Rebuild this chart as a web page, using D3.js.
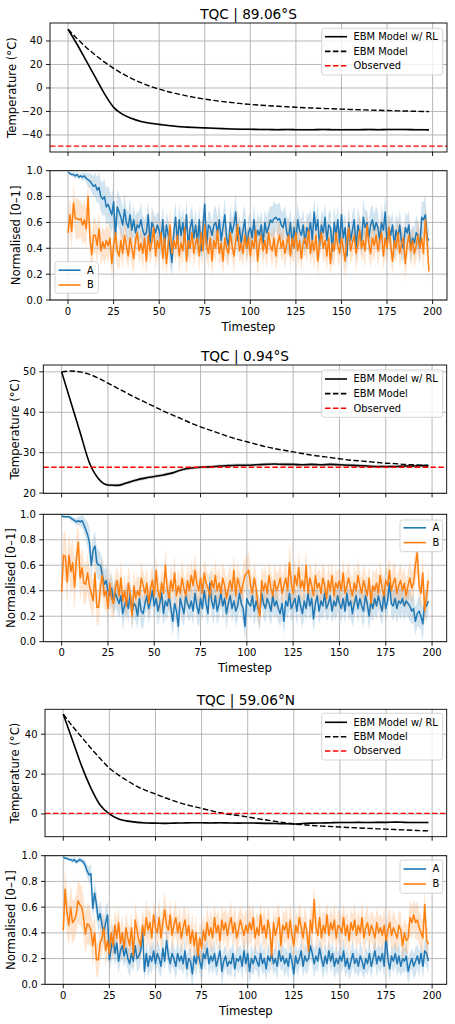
<!DOCTYPE html>
<html>
<head>
<meta charset="utf-8">
<script src="https://cdn.jsdelivr.net/npm/d3@7"></script>
<style>
body { margin: 0; background: #fff; }
svg { display: block; font-family: "DejaVu Sans", sans-serif; }
</style>
</head>
<body>
<svg width="455" height="1024"></svg>
<script>
// ---- data ----
const titles = ["TQC | 89.06°S", "TQC | 0.94°S", "TQC | 59.06°N"]
const xTicks = [0, 25, 50, 75, 100, 125, 150, 175, 200]
const normTicks = [0, 0.2, 0.4, 0.6, 0.8, 1.0]
const tempTicks = [[-40, -20, 0, 20, 40], [20, 30, 40, 50], [0, 20, 40]]
const tempLegend = ["EBM Model w/ RL", "EBM Model", "Observed"]
const seriesNames = ["A", "B"]

// temperature curves, sampled every 5 timesteps
const tempSteps = [0,5,10,15,20,25,30,35,40,45,50,55,60,65,70,75,80,85,90,95,100,105,110,115,120,125,130,135,140,145,150,155,160,165,170,175,180,185,190,195,198]

const rl1 = [50,37,23,9,-5,-16.5,-22.5,-26,-28.5,-30,-31,-32,-32.8,-33.3,-33.7,-34,-34.3,-34.6,-34.9,-35.1,-35.2,-35.3,-35.4,-35.5,-35.4,-35.5,-35.6,-35.5,-35.4,-35.5,-35.6,-35.5,-35.5,-35.4,-35.5,-35.4,-35.3,-35.4,-35.5,-35.6,-35.7]
const ebm1 = [50,42,34.5,28,22,16.7,12,8,4.5,1.5,-1,-3.2,-5,-6.7,-8.2,-9.5,-10.6,-11.6,-12.5,-13.3,-14,-14.6,-15.1,-15.6,-16,-16.4,-16.8,-17.1,-17.4,-17.7,-18,-18.3,-18.5,-18.8,-19,-19.2,-19.4,-19.6,-19.8,-20,-20.1]
const rlStd1 = [0,0.2,0.3,0.4,0.5,0.5,0.6,0.6,0.6,0.7,0.7,0.7,0.8,0.8,0.8,0.8,0.8,0.8,0.9,0.9,0.9,0.9,0.9,0.9,0.9,0.9,0.9,0.9,0.9,0.9,0.9,0.9,0.9,0.9,0.9,0.9,0.9,0.9,0.9,0.9,0.9]
const obs1 = -49.5

const rl2 = [50,42.5,35,27.5,23.5,22,21.9,22.5,23.2,23.7,24.1,24.5,25,25.8,26.2,26.4,26.5,26.7,26.8,26.9,26.9,27,27.1,27.2,27.1,27.1,27,27.1,27,27.1,27,26.9,26.8,26.7,26.6,26.6,26.6,26.7,26.7,26.8,26.6]
const ebm2 = [50,50.2,50,49.4,48.4,47.2,46,44.8,43.6,42.5,41.4,40.3,39.3,38.3,37.3,36.4,35.6,34.8,34,33.3,32.7,32.1,31.5,31,30.6,30.2,29.8,29.4,29.1,28.8,28.5,28.2,28,27.8,27.6,27.4,27.3,27.1,27,26.9,26.9]
const rlStd2 = [0,0.1,0.2,0.3,0.3,0.3,0.4,0.4,0.4,0.4,0.4,0.4,0.4,0.4,0.4,0.4,0.4,0.4,0.4,0.4,0.4,0.4,0.4,0.4,0.4,0.4,0.4,0.4,0.4,0.4,0.4,0.4,0.4,0.4,0.4,0.4,0.4,0.4,0.4,0.4,0.4]
const obs2 = 26.4

const rl3 = [50,37,24,13,4.5,0,-2.5,-3.6,-4.2,-4.5,-4.6,-4.7,-4.6,-4.5,-4.4,-4.4,-4.5,-4.4,-4.5,-4.6,-4.5,-4.6,-4.7,-4.8,-4.9,-5,-4.8,-4.6,-4.5,-4.4,-4.3,-4.3,-4.2,-4.3,-4.2,-4.2,-4.1,-4.2,-4.3,-4.3,-4.3]
const ebm3 = [50,44,38.5,33,27.8,23,19.5,16.5,13.8,11.7,10,8.2,6.6,5.1,3.9,2.8,1.7,0.6,-0.2,-0.8,-1.5,-2.3,-3,-3.7,-4.4,-5,-5.4,-5.8,-6.1,-6.3,-6.5,-6.8,-7,-7.2,-7.4,-7.6,-7.8,-8,-8.2,-8.4,-8.5]
const rlStd3 = [0,0.2,0.3,0.3,0.4,0.4,0.4,0.4,0.4,0.4,0.4,0.4,0.4,0.4,0.4,0.4,0.4,0.4,0.4,0.4,0.4,0.4,0.4,0.4,0.4,0.4,0.4,0.4,0.4,0.4,0.4,0.4,0.4,0.4,0.4,0.4,0.4,0.4,0.4,0.4,0.4]
const obs3 = 0.3

// normalised series, one value per timestep (x100)
const a1 = [99,98,97,97,96,97,95,96,95,96, 94,93,92,90,88,89,85,87,80,78, 80,72,74,70,66,76,49,72,68,64, 58,70,60,56,66,54,62,52,58,56, 62,54,50,52,66,44,60,56,52,58, 54,46,62,42,58,50,40,29,52,64, 44,62,50,60,46,66,40,56,62,48, 58,44,62,38,56,74,42,58,56,50, 58,60,52,62,46,56,66,48,42,60, 52,58,68,46,56,44,54,62,40,52, 56,48,62,46,54,50,58,44,60,52, 56,62,60,63,64,62,63,58,56,63, 52,48,60,42,56,46,62,54,50,58, 44,56,52,60,46,68,54,62,42,58, 52,64,46,58,56,38,60,50,62,44, 66,48,56,34,60,46,54,62,40,58, 52,46,64,56,60,48,58,62,54,60, 56,46,60,54,68,44,56,50,58,42, 54,48,58,44,40,56,52,58,40,48, 44,52,50,40,64,62,66,48,46]
const sa1 = [1,1,1,2,2,2,2,2,3,3, 4,5,6,7,8,10,10,12,12,13, 14,14,15,14,14,15,14,14,13,14, 12,13,11,12,14,10,12,13,11,12, 13,11,12,14,10,12,13,11,12,10, 12,14,11,13,10,12,14,11,13,12, 10,12,13,11,14,12,10,13,11,12, 13,11,12,10,14,12,13,11,12,10, 12,13,11,14,12,10,13,11,12,14, 11,12,15,13,10,12,14,11,12,13, 12,10,13,11,14,12,11,13,10,12, 13,11,12,14,10,12,13,11,12,10, 12,14,11,13,10,12,14,11,13,12, 10,12,13,11,14,12,10,13,11,12, 13,11,12,10,14,12,13,11,12,10, 12,13,11,14,12,10,13,11,12,14, 11,12,14,13,10,12,14,11,12,13, 12,10,13,11,14,12,11,13,10,12, 13,11,12,14,10,12,13,11,12,10, 12,14,11,13,12,14,16,12,10]
const b1 = [52,66,53,75,63,63,62,63,58,62, 55,80,48,35,50,50,42,55,38,45, 40,46,42,48,28,42,52,38,34,46, 36,50,42,34,48,40,32,46,52,38, 44,36,48,30,50,38,45,56,34,46, 40,52,32,48,28,44,58,36,46,40, 50,34,44,38,56,30,46,40,52,36, 44,48,34,52,38,58,42,36,48,30, 46,40,54,36,44,30,48,40,36,52, 42,34,46,58,38,44,36,50,40,48, 34,46,40,54,30,44,50,38,46,36, 52,42,38,48,34,44,50,40,46,36, 44,50,34,48,40,52,38,46,32,44, 48,40,54,36,46,38,50,30,44,52, 40,46,34,48,28,44,38,52,42,36, 48,40,30,46,56,38,44,50,36,42, 54,40,46,38,58,44,36,48,42,50, 38,46,52,34,48,40,56,42,30,46, 40,52,36,44,48,28,42,50,38,46, 36,42,50,40,48,36,62,45,22]
const sb1 = [12,13,14,15,15,16,15,14,15,16, 15,14,16,15,14,13,15,14,13,12, 13,12,14,11,13,12,14,12,11,13, 12,11,13,10,12,14,11,12,13,10, 11,13,12,10,14,11,12,13,11,12, 13,10,12,14,11,12,13,11,10,12, 12,14,11,12,10,13,11,12,14,11, 10,12,13,11,12,14,10,12,11,13, 12,11,13,10,12,11,14,12,10,13, 11,13,12,14,10,12,11,13,12,10, 13,11,12,10,14,12,11,13,10,12, 12,10,13,11,12,14,11,10,13,12, 11,13,10,12,14,11,12,13,10,12, 13,11,12,10,12,14,11,13,12,10, 12,13,11,14,10,12,13,11,12,10, 11,12,14,10,13,11,12,10,13,12, 13,11,12,14,10,12,11,13,12,10, 12,10,13,11,14,12,10,12,11,13, 11,13,12,10,12,14,11,12,13,10, 12,11,13,12,10,14,13,11,10]

const a2 = [99,98,98,98,98,97,96,95,94,95, 94,95,92,88,84,78,60,72,75,62, 60,60,52,45,48,40,36,42,32,38, 34,30,36,22,28,34,26,38,22,30, 28,20,34,24,22,30,36,26,32,40, 28,34,24,30,38,22,32,28,36,26, 16,30,24,12,34,28,22,36,30,26, 32,24,38,28,22,34,26,40,30,22, 46,32,26,36,24,30,38,28,34,22, 30,36,26,32,24,28,38,30,26,12, 34,30,28,36,24,32,26,22,38,30, 26,34,30,24,36,28,32,26,22,30, 16,32,28,38,26,30,34,24,36,28, 22,32,26,38,28,34,18,30,36,24, 32,28,38,26,30,36,24,32,28,36, 30,26,34,24,38,28,32,22,30,36, 26,34,28,24,36,30,20,32,26,34, 28,36,30,24,38,26,32,46,30,28, 34,26,32,30,34,28,32,30,28,24, 26,16,22,24,20,14,30,28,32]
const sa2 = [1,1,1,1,1,2,2,2,3,3, 4,5,6,8,10,12,10,10,12,12, 12,10,12,11,12,10,12,13,11,12, 10,12,11,13,10,12,11,10,12,11, 12,10,11,13,12,10,11,12,10,12, 11,10,12,11,13,10,12,11,10,12, 11,12,10,13,11,12,10,11,12,10, 12,11,10,12,11,13,10,12,11,10, 12,11,13,10,12,11,10,12,11,13, 10,12,11,10,12,11,13,10,12,11, 12,10,11,13,12,10,11,12,10,12, 11,10,12,11,13,10,12,11,10,12, 11,12,10,13,11,12,10,11,12,10, 12,11,10,12,11,13,10,12,11,10, 12,11,13,10,12,11,10,12,11,13, 10,12,11,10,12,11,13,10,12,11, 12,10,11,13,12,10,11,12,10,12, 11,10,12,11,13,10,12,11,10,12, 11,12,10,13,11,12,10,11,12,10, 12,11,10,12,11,13,10,12,11]
const b2 = [39,68,67,47,68,55,62,43,65,78, 50,58,46,45,54,44,38,32,54,27, 27,44,52,36,40,26,46,34,30,42, 48,36,50,32,40,28,46,38,20,44, 34,40,36,50,44,38,46,30,42,48, 36,56,40,34,46,38,60,42,34,48, 40,54,36,44,38,50,42,36,48,40, 52,44,56,46,40,50,38,54,46,42, 36,48,42,52,40,46,38,50,44,34, 42,48,40,56,36,50,44,38,46,52, 54,56,44,38,50,42,28,20,48,40, 46,38,52,42,36,48,40,44,50,38, 44,50,40,62,46,38,52,44,58,42, 48,40,60,38,50,44,36,52,42,46, 38,50,44,34,48,40,52,36,46,42, 48,40,54,38,44,50,42,36,46,40, 52,44,38,48,42,36,50,30,44,40, 46,38,52,42,36,48,44,56,40,46, 50,38,44,48,40,46,36,44,50,42, 46,60,70,44,38,54,24,36,48]
const sb2 = [20,18,20,19,17,18,20,19,18,17, 18,16,17,15,16,15,14,16,15,14, 14,13,15,12,14,13,12,14,13,12, 13,12,14,11,13,12,14,12,11,13, 12,14,11,13,12,10,14,12,13,11, 13,12,15,11,13,12,14,11,12,13, 12,14,11,13,12,15,11,12,14,12, 13,11,14,12,13,15,12,11,13,12, 14,12,11,13,12,14,11,13,12,15, 12,13,11,14,12,13,11,12,14,13, 12,15,13,11,14,12,13,11,12,14, 13,11,12,14,12,13,15,11,12,13, 12,14,11,15,13,12,14,11,13,12, 14,12,13,11,12,14,12,13,11,12, 13,12,14,11,13,12,11,14,12,13, 12,13,11,14,12,13,11,12,14,12, 13,11,12,14,12,13,11,12,13,14, 12,13,11,12,14,12,13,11,12,14, 13,11,12,14,12,13,11,12,14,13, 12,14,16,13,12,14,13,12,11]

const a3 = [99,98,98,97,97,96,97,95,96,97, 96,95,92,88,85,86,59,71,62,50, 55,46,40,48,54,19,28,36,24,32, 18,26,30,22,28,20,16,24,18,30, 20,22,26,42,10,24,14,22,18,26, 16,24,20,14,28,18,34,22,16,24, 20,14,24,18,22,16,26,12,20,18, 8,22,16,26,18,12,24,20,28,16, 22,18,24,14,20,26,10,18,22,14, 18,16,24,12,20,18,22,14,26,16, 24,10,20,16,22,18,14,24,16,20, 12,22,18,24,16,20,14,26,18,22, 16,20,14,24,18,8,22,16,20,26, 14,22,18,20,30,24,16,22,18,28, 20,14,22,16,26,18,24,14,20,16, 22,18,26,14,20,12,18,24,16,20, 14,22,18,12,20,16,24,14,20,26, 16,22,18,24,14,38,20,12,22,18, 24,16,22,14,20,18,22,10,16,20, 14,18,22,16,24,14,26,24,18]
const sa3 = [1,1,1,1,1,2,2,2,2,2, 2,3,4,5,6,8,8,9,10,10, 10,11,10,12,11,10,12,11,10,12, 10,9,11,8,10,9,11,10,8,9, 10,11,9,10,8,10,9,11,10,9, 8,10,11,9,10,8,11,10,9,10, 9,11,10,8,10,9,11,10,8,10, 11,9,10,8,10,11,9,10,8,10, 9,10,11,8,10,9,11,10,9,8, 10,11,9,10,8,10,9,11,10,9, 8,10,11,9,10,8,11,10,9,10, 9,11,10,8,10,9,11,10,8,10, 11,9,10,8,10,11,9,10,8,10, 9,10,11,8,10,9,11,10,9,8, 10,11,9,10,8,10,9,11,10,9, 8,10,11,9,10,8,11,10,9,10, 9,11,10,8,10,9,11,10,8,10, 11,9,10,8,10,11,9,10,8,10, 9,10,11,8,10,9,11,10,9,8, 10,11,9,10,8,10,9,11,10]
const b3 = [42,74,56,46,60,48,50,54,65,62, 60,52,39,47,46,42,30,40,19,19, 32,36,44,26,34,24,40,30,46,36, 48,32,40,28,44,36,30,44,22,50, 42,34,30,46,38,52,42,48,36,54, 44,40,52,36,48,58,46,42,54,38, 46,52,40,48,36,44,50,38,46,32, 42,30,40,22,36,28,42,34,48,38, 44,36,52,40,46,34,50,42,48,38, 46,52,40,48,36,42,50,44,38,46, 40,48,42,52,36,44,38,54,40,46, 36,50,42,22,48,38,44,52,30,46, 42,48,36,50,38,30,46,40,52,44, 36,48,42,26,50,40,66,44,38,52, 36,46,40,54,38,48,42,50,36,46, 44,40,52,38,46,34,48,42,50,38, 46,40,52,36,44,48,38,46,42,36, 48,40,44,38,46,34,42,48,38,44, 40,36,46,42,30,40,34,36,52,48, 54,48,50,44,40,36,62,34,31]
const sb3 = [16,18,17,16,18,17,16,15,17,16, 16,15,17,16,15,14,16,15,14,13, 13,14,12,13,12,14,12,13,12,14, 13,12,14,11,13,12,14,12,11,13, 12,14,11,13,12,15,14,12,13,11, 13,12,15,11,13,14,14,11,12,13, 12,14,11,13,12,15,11,12,14,12, 13,11,14,12,13,15,12,11,13,12, 14,12,11,13,12,14,11,13,12,15, 12,13,11,14,12,13,11,12,14,13, 12,15,13,11,14,12,13,11,12,14, 13,11,12,14,12,13,15,11,12,13, 12,14,11,15,13,12,14,11,13,12, 14,12,13,11,12,16,12,13,11,12, 13,12,14,11,13,12,11,14,12,13, 12,13,11,14,12,13,11,12,14,12, 13,11,12,14,12,13,11,12,13,14, 12,13,11,12,14,12,13,11,12,14, 13,11,12,14,12,13,11,12,14,13, 12,14,15,13,12,14,13,12,11]

// ---- layout ----
const xDomain = [-9.9, 207.9]
const blue = "#1f77b4", orange = "#ff7f0e"
const tickFont = 10, labelFont = 11.7, titleFont = 13.7, legendFont = 9.9

const svg = d3.select("svg")
let clipN = 0

function makeAxes(p, yDomain) {
    const x = d3.scaleLinear().domain(xDomain).range([p.left, p.right])
    const y = d3.scaleLinear().domain(yDomain).range([p.bottom, p.top])
    const id = "clip" + (clipN++)
    svg.append("clipPath").attr("id", id).append("rect")
        .attr("x", p.left).attr("y", p.top)
        .attr("width", p.right - p.left).attr("height", p.bottom - p.top)
    const g = svg.append("g")
    return {x, y, g, clip: "url(#" + id + ")"}
}

function grid(ax, p, yt) {
    const gg = ax.g.append("g").attr("stroke", "#b0b0b0").attr("stroke-width", 0.9)
    gg.selectAll(".gx").data(xTicks).enter().append("line")
        .attr("x1", d => ax.x(d)).attr("x2", d => ax.x(d))
        .attr("y1", p.top).attr("y2", p.bottom)
    gg.selectAll(".gy").data(yt).enter().append("line")
        .attr("y1", d => ax.y(d)).attr("y2", d => ax.y(d))
        .attr("x1", p.left).attr("x2", p.right)
}

function frameAndTicks(ax, p, yt, yfmt, showX) {
    const g = ax.g.append("g")
    g.append("rect").attr("x", p.left).attr("y", p.top)
        .attr("width", p.right - p.left).attr("height", p.bottom - p.top)
        .attr("fill", "none").attr("stroke", "#000").attr("stroke-width", 0.9)
    g.selectAll(".tx").data(xTicks).enter().append("line")
        .attr("x1", d => ax.x(d)).attr("x2", d => ax.x(d))
        .attr("y1", p.bottom).attr("y2", p.bottom + 4)
        .attr("stroke", "#000").attr("stroke-width", 0.9)
    g.selectAll(".ty").data(yt).enter().append("line")
        .attr("x1", p.left - 4).attr("x2", p.left)
        .attr("y1", d => ax.y(d)).attr("y2", d => ax.y(d))
        .attr("stroke", "#000").attr("stroke-width", 0.9)
    g.selectAll(".ly").data(yt).enter().append("text")
        .attr("x", p.left - 7.5).attr("y", d => ax.y(d)).attr("dy", "0.35em")
        .attr("text-anchor", "end").attr("font-size", tickFont)
        .text(yfmt)
    if (showX) {
        g.selectAll(".lx").data(xTicks).enter().append("text")
            .attr("x", d => ax.x(d)).attr("y", p.bottom + 14.5)
            .attr("text-anchor", "middle").attr("font-size", tickFont)
            .text(d => d)
        g.append("text").attr("x", (p.left + p.right) / 2).attr("y", p.bottom + 30.5)
            .attr("text-anchor", "middle").attr("font-size", labelFont)
            .text("Timestep")
    }
}

function yLabel(text, cx, cy) {
    svg.append("text").attr("transform", `translate(${cx},${cy}) rotate(-90)`)
        .attr("dy", "0.35em").attr("text-anchor", "middle")
        .attr("font-size", labelFont).text(text)
}

function legendBox(lg, items) {
    const g = svg.append("g")
    g.append("rect").attr("x", lg.x).attr("y", lg.y).attr("width", lg.w).attr("height", lg.h)
        .attr("rx", 2.5).attr("fill", "#fff").attr("fill-opacity", 0.8)
        .attr("stroke", "#d0d0d0").attr("stroke-width", 0.9)
    items.forEach((it, i) => {
        const yy = lg.rows[i]
        g.append("line").attr("x1", lg.l0).attr("x2", lg.l1).attr("y1", yy).attr("y2", yy)
            .attr("stroke", it.color).attr("stroke-width", 1.6)
            .attr("stroke-dasharray", it.dash || null)
        g.append("text").attr("x", lg.tx).attr("y", yy).attr("dy", "0.35em")
            .attr("font-size", legendFont).text(it.label)
    })
}

function tempPanel(p, title, rl, rlStd, ebm, obs, yt) {
    const ax = makeAxes(p, p.yDomain)
    const pts = tempSteps.map((t, i) => ({t, m: rl[i], s: rlStd[i], e: ebm[i]}))
    ax.g.append("path").datum(pts)
        .attr("clip-path", ax.clip)
        .attr("fill", "#000").attr("fill-opacity", 0.18)
        .attr("d", d3.area().curve(d3.curveMonotoneX)
            .x(d => ax.x(d.t)).y0(d => ax.y(d.m - d.s)).y1(d => ax.y(d.m + d.s)))
    grid(ax, p, yt)
    ax.g.append("path").datum(pts).attr("clip-path", ax.clip)
        .attr("fill", "none").attr("stroke", "#000").attr("stroke-width", 1.6)
        .attr("d", d3.line().curve(d3.curveMonotoneX).x(d => ax.x(d.t)).y(d => ax.y(d.m)))
    ax.g.append("path").datum(pts).attr("clip-path", ax.clip)
        .attr("fill", "none").attr("stroke", "#000").attr("stroke-width", 1.4)
        .attr("stroke-dasharray", "5.5,2.4")
        .attr("d", d3.line().curve(d3.curveMonotoneX).x(d => ax.x(d.t)).y(d => ax.y(d.e)))
    ax.g.append("line").attr("x1", p.left).attr("x2", p.right)
        .attr("y1", ax.y(obs)).attr("y2", ax.y(obs))
        .attr("stroke", "#ff0000").attr("stroke-width", 1.4).attr("stroke-dasharray", "5.5,2.4")
    frameAndTicks(ax, p, yt, d3.format("d"), false)
    svg.append("text").attr("x", (p.left + p.right) / 2).attr("y", p.top - 4.5)
        .attr("text-anchor", "middle").attr("font-size", titleFont).text(title)
    yLabel("Temperature (°C)", p.ylx, (p.top + p.bottom) / 2)
    legendBox(p.legend, [
        {label: tempLegend[0], color: "#000"},
        {label: tempLegend[1], color: "#000", dash: "5.5,2.4"},
        {label: tempLegend[2], color: "#ff0000", dash: "5.5,2.4"}
    ])
}

function normPanel(p, a, sa, b, sb) {
    const ax = makeAxes(p, [0, 1])
    const series = [{v: a, s: sa, c: blue}, {v: b, s: sb, c: orange}]
    series.forEach(sr => {
        const pts = sr.v.map((v, i) => ({t: i, m: v / 100, s: sr.s[i] / 100}))
        ax.g.append("path").datum(pts).attr("clip-path", ax.clip)
            .attr("fill", sr.c).attr("fill-opacity", 0.2)
            .attr("d", d3.area().x(d => ax.x(d.t)).y0(d => ax.y(d.m - d.s)).y1(d => ax.y(d.m + d.s)))
    })
    grid(ax, p, normTicks)
    series.forEach(sr => {
        const pts = sr.v.map((v, i) => ({t: i, m: v / 100}))
        ax.g.append("path").datum(pts).attr("clip-path", ax.clip)
            .attr("fill", "none").attr("stroke", sr.c).attr("stroke-width", 1.5)
            .attr("stroke-linejoin", "round")
            .attr("d", d3.line().x(d => ax.x(d.t)).y(d => ax.y(d.m)))
    })
    frameAndTicks(ax, p, normTicks, d3.format(".1f"), true)
    yLabel("Normalised [0–1]", p.ylx, (p.top + p.bottom) / 2)
    legendBox(p.legend, [
        {label: seriesNames[0], color: blue},
        {label: seriesNames[1], color: orange}
    ])
}

tempPanel({left: 50, right: 447, top: 23, bottom: 152, yDomain: [-54.5, 55.3], ylx: 11.7,
    legend: {x: 321.7, y: 28.3, w: 121, h: 46.7, rows: [36.7, 51.4, 65.8], l0: 325, l1: 347, tx: 353.5}},
    titles[0], rl1, rlStd1, ebm1, obs1, tempTicks[0])
normPanel({left: 50, right: 447, top: 170.7, bottom: 300, ylx: 16.2,
    legend: {x: 55, y: 261.7, w: 43.3, h: 31.6, rows: [270.2, 285], l0: 58.5, l1: 80.5, tx: 87}},
    a1, sa1, b1, sb1)

tempPanel({left: 43.3, right: 446.7, top: 365, bottom: 493.3, yDomain: [19.95, 51.7], ylx: 14.7,
    legend: {x: 321.7, y: 370, w: 121, h: 47.3, rows: [379, 393.6, 408.2], l0: 325, l1: 347, tx: 353.5}},
    titles[1], rl2, rlStd2, ebm2, obs2, tempTicks[1])
normPanel({left: 43.3, right: 446.7, top: 514.3, bottom: 641.7, ylx: 11.3,
    legend: {x: 400, y: 520, w: 42.7, h: 31.7, rows: [527.8, 542.6], l0: 403.5, l1: 426, tx: 432.5}},
    a2, sa2, b2, sb2)

tempPanel({left: 45, right: 446.7, top: 709.3, bottom: 836.7, yDomain: [-11.4, 52.5], ylx: 15,
    legend: {x: 321.7, y: 713.3, w: 121, h: 46.7, rows: [722.3, 736.7, 751], l0: 325, l1: 347, tx: 353.5}},
    titles[2], rl3, rlStd3, ebm3, obs3, tempTicks[2])
normPanel({left: 45, right: 446.7, top: 855.7, bottom: 984.3, ylx: 11,
    legend: {x: 400, y: 860, w: 42.7, h: 33.3, rows: [869, 884], l0: 403.5, l1: 426, tx: 432.5}},
    a3, sa3, b3, sb3)
</script>
</body>
</html>
